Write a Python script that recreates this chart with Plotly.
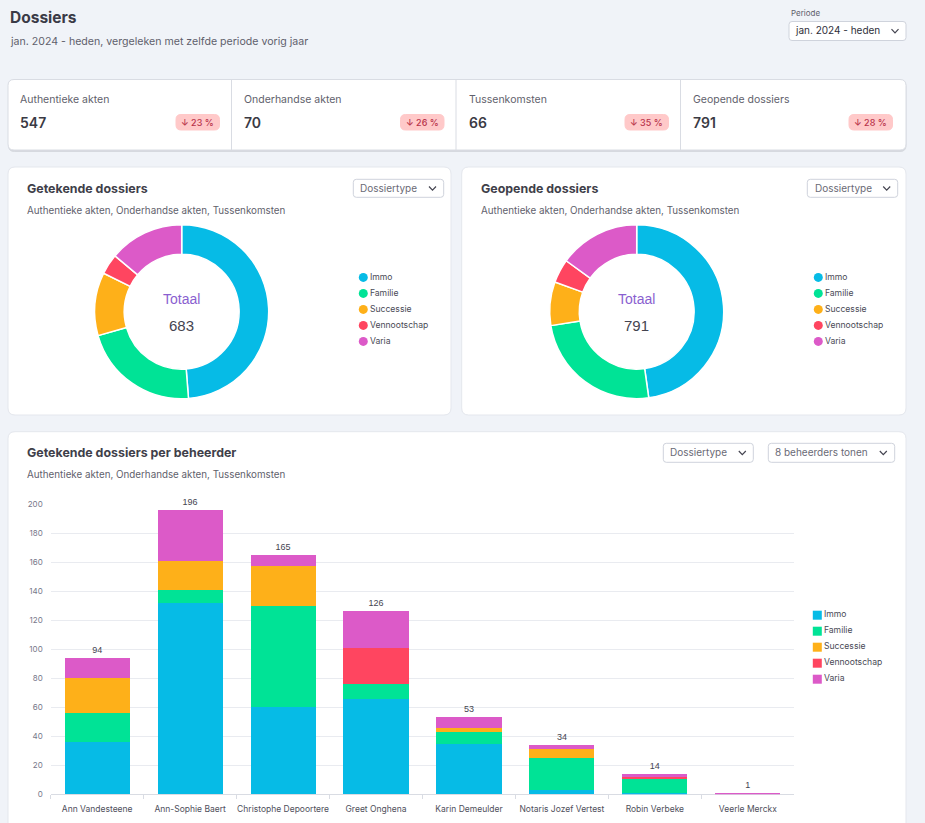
import plotly.graph_objects as go

W, H = 925, 823
SERIES = ["Immo", "Familie", "Successie", "Vennootschap", "Varia"]
COLORS = ["#06bbe6", "#00e396", "#feb019", "#ff4560", "#dc5ac8"]

KPI_LABELS = ["Authentieke akten", "Onderhandse akten", "Tussenkomsten", "Geopende dossiers"]
KPI_VALUES = ["547", "70", "66", "791"]
KPI_DELTAS = ["↓ 23 %", "↓ 26 %", "↓ 35 %", "↓ 28 %"]

SIGNED = [333, 149, 80, 26, 95]
OPENED = [378, 195, 64, 35, 119]

MANAGERS = ["Ann Vandesteene", "Ann-Sophie Baert", "Christophe Depoortere", "Greet Onghena",
            "Karin Demeulder", "Notaris Jozef Vertest", "Robin Verbeke", "Veerle Merckx"]
IMMO = [36, 132, 60, 66, 35, 3, 1, 0]
FAMILIE = [20, 9, 70, 10, 8, 22, 10, 0]
SUCCESSIE = [24, 20, 27, 0, 3, 6, 0, 0]
VENNOOTSCHAP = [0, 0, 0, 25, 0, 0, 1, 0]
VARIA = [14, 35, 8, 25, 7, 3, 2, 1]
BAR_SERIES = [IMMO, FAMILIE, SUCCESSIE, VENNOOTSCHAP, VARIA]
TOTALS = [sum(v) for v in zip(*BAR_SERIES)]

SUBTITLE = "Authentieke akten, Onderhandse akten, Tussenkomsten"
UI = "Inter"
CHART = "Liberation Sans"
DARK = "#3f3f4a"
MUTED = "#5f5f6c"


def px(x):
    return x / W


def py(y):
    return 1 - y / H


shapes = []
annotations = []


def rrect(x0, y0, x1, y1, r, fill, line, lw=1):
    rx, ry = r / W, r / H
    a, b, c, d = px(x0), px(x1), py(y0), py(y1)
    path = (f"M{a+rx},{c} L{b-rx},{c} Q{b},{c} {b},{c-ry} L{b},{d+ry} Q{b},{d} {b-rx},{d} "
            f"L{a+rx},{d} Q{a},{d} {a},{d+ry} L{a},{c-ry} Q{a},{c} {a+rx},{c} Z")
    shapes.append(dict(type="path", xref="paper", yref="paper", path=path, fillcolor=fill,
                       line=dict(color=line, width=lw), layer="below"))


def text(x, y, s, size, color=DARK, family=UI, anchor="left", weight=400):
    annotations.append(dict(x=px(x), y=py(y), xref="paper", yref="paper", text=s,
                            showarrow=False, xanchor=anchor, yanchor="middle",
                            font=dict(size=size, color=color, family=family, weight=weight),
                            borderpad=0, borderwidth=0))


def chevron(x, y):
    path = f"M{px(x-3.5)},{py(y-1.8)} L{px(x)},{py(y+1.8)} L{px(x+3.5)},{py(y-1.8)}"
    shapes.append(dict(type="path", xref="paper", yref="paper", path=path,
                       line=dict(color="#444450", width=1.2), layer="above"))


def select(x0, y0, x1, y1, label, tx, cx, size=10, color="#6a6a76"):
    rrect(x0, y0, x1, y1, 3, "#ffffff", "#cfd3dc")
    text(tx, (y0 + y1) / 2 - 0.5, label, size, color)
    chevron(cx, (y0 + y1) / 2)


# page header
text(10, 17, "Dossiers", 15.5, "#3a3a46", weight=700)
text(10, 41, "jan. 2024 - heden, vergeleken met zelfde periode vorig jaar", 10.6, MUTED)
text(791, 13, "Periode", 8, MUTED)
select(789, 21.5, 906, 40.5, "jan. 2024 - heden", 795, 895, 10, "#2f2f3a")

# KPI strip
rrect(8.5, 81, 906, 151.5, 6, "#d6d9df", "#d6d9df")
rrect(8, 79.5, 906, 150, 6, "#ffffff", "#d9dce3")
for x in (231.5, 456, 680.5):
    shapes.append(dict(type="line", xref="paper", yref="paper", x0=px(x), x1=px(x), y0=py(80), y1=py(150),
                       line=dict(color="#d9dce3", width=1), layer="below"))
for lab, val, dlt, x, bx in zip(KPI_LABELS, KPI_VALUES, KPI_DELTAS, (20, 244, 469, 693), (176, 400.5, 625, 849)):
    text(x, 99.5, lab, 10.5, MUTED)
    text(x, 122, val, 14, "#3a3a44", weight=600)
    rrect(bx, 114.5, bx + 43.5, 130, 5, "#ffc9c9", "#ffc9c9")
    text(bx + 21.7, 122, dlt, 9, "#b8324a", anchor="center", weight=500)

# panels
rrect(8, 167, 451, 415, 7, "#ffffff", "#e4e7ed")
rrect(461.7, 167, 906, 415, 7, "#ffffff", "#e4e7ed")
rrect(8, 431.7, 906, 860, 7, "#ffffff", "#e4e7ed")

for x0, title, sx0, tx, cx in ((26.5, "Getekende dossiers", 353.3, 360, 432.5),
                               (481, "Geopende dossiers", 807.3, 814.5, 886.7)):
    text(x0, 188.7, title, 12.4, "#3f3f4a", weight=700)
    text(x0, 210.5, SUBTITLE, 9.8, MUTED)
    select(sx0, 179.3, sx0 + 90.4, 197.3, "Dossiertype", tx, cx)

text(26.5, 452.7, "Getekende dossiers per beheerder", 12.4, "#3f3f4a", weight=700)
text(26.5, 474.5, SUBTITLE, 9.8, MUTED)
select(663.3, 443.3, 753.3, 462.3, "Dossiertype", 670, 742.3)
select(768.3, 443.3, 894.7, 462.3, "8 beheerders tonen", 775, 883.3)

fig = go.Figure()

# donuts
R = 87
CY = 311.7
for vals, cx, total in ((SIGNED, 181.7, sum(SIGNED)), (OPENED, 636.7, sum(OPENED))):
    fig.add_trace(go.Pie(values=vals, labels=SERIES, hole=0.66, sort=False, direction="clockwise", rotation=0,
                         marker=dict(colors=COLORS, line=dict(color="#ffffff", width=1.5)),
                         textinfo="none", showlegend=False, automargin=False,
                         domain=dict(x=[px(cx - R), px(cx + R)], y=[py(CY + R), py(CY - R)])))
    text(cx, 299, "Totaal", 14, "#8a5fd0", CHART, "center")
    text(cx, 325.7, str(total), 15, "#444450", CHART, "center")

# stacked bars (empty segments are left out so they draw no hairline)
for name, color, vals in zip(SERIES, COLORS, BAR_SERIES):
    fig.add_trace(go.Bar(x=MANAGERS, y=[v or None for v in vals], name=name, width=0.7, showlegend=False,
                         marker=dict(color=color, line=dict(width=0))))
fig.add_trace(go.Scatter(x=MANAGERS, y=TOTALS, mode="markers+text", text=[str(t) for t in TOTALS],
                         textposition="top center", showlegend=False, cliponaxis=False,
                         marker=dict(size=3, opacity=0),
                         textfont=dict(size=9, color="#444450", family=CHART)))


# colour keys, one small hidden-axis scatter each
def key(n, x_left, y_top, symbol):
    fig.add_trace(go.Scatter(x=[0] * len(SERIES), y=SERIES, mode="markers+text", text=SERIES,
                             textposition="middle right", cliponaxis=False, showlegend=False,
                             textfont=dict(size=8.6, color="#4a4a56", family=UI),
                             marker=dict(size=9, symbol=symbol, color=COLORS, line=dict(width=0)),
                             xaxis=f"x{n}", yaxis=f"y{n}"))
    hidden = dict(visible=False, fixedrange=True)
    return {
        f"xaxis{n}": dict(hidden, domain=[px(x_left), px(x_left + 80)], range=[0, 1], anchor=f"y{n}"),
        f"yaxis{n}": dict(hidden, domain=[py(y_top + 80), py(y_top)], type="category",
                          categoryorder="array", categoryarray=SERIES[::-1], range=[-0.5, 4.5], anchor=f"x{n}"),
    }


axes = {}
axes.update(key(2, 363.3, 269.4, "circle"))
axes.update(key(3, 818.3, 269.4, "circle"))
axes.update(key(4, 817.3, 607.2, "square"))

fig.update_layout(
    width=W, height=H, margin=dict(l=0, r=0, t=0, b=0, autoexpand=False), autosize=False,
    paper_bgcolor="#f0f3f8", plot_bgcolor="rgba(0,0,0,0)", barmode="stack", bargap=0.3,
    showlegend=False, shapes=shapes, annotations=annotations,
    xaxis=dict(domain=[px(50.7), px(794.3)], type="category", categoryorder="array", categoryarray=MANAGERS,
               tickson="boundaries", ticks="outside", ticklen=4, tickcolor="#d9dce3", showline=True,
               linecolor="#d9dce3", showgrid=False, layer="below traces", ticklabelstandoff=6,
               tickfont=dict(size=8.5, color="#4f4f5c", family=UI), tickangle=0),
    yaxis=dict(domain=[py(794.3), py(504)], range=[0, 200], tick0=0, dtick=20, showgrid=True, gridcolor="#e9ebf0",
               gridwidth=1, zeroline=False, showline=False, ticklabelstandoff=7,
               tickfont=dict(size=8, color="#77778a", family=UI)),
    **axes,
)

fig.write_html("out.html", config=dict(displayModeBar=False),
               post_script="document.documentElement.style.margin='0';document.body.style.margin='0';"
                           "document.body.style.background='#f0f3f8';document.body.style.overflow='hidden';")
